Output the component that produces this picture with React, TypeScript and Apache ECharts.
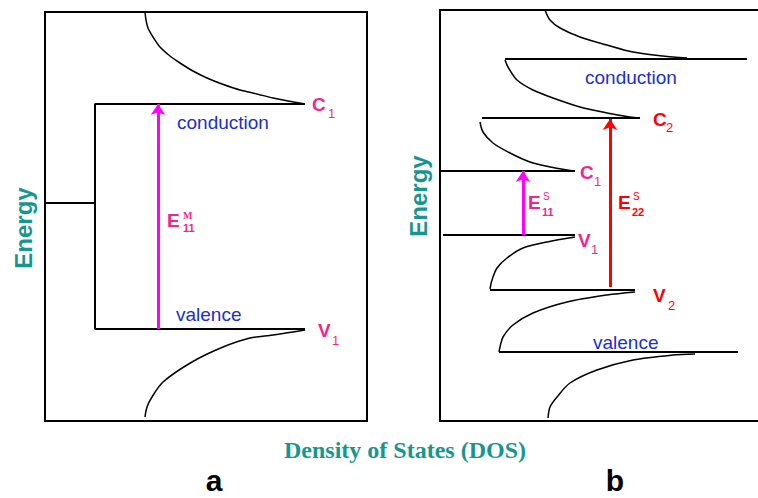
import React, { useEffect, useRef } from "react";
import * as echarts from "echarts";

// Panel a (metallic tube) — [DOS, Energy] pairs, arbitrary units
const aConductionCurve = [[100,409],[101,401],[103,393],[108,384],[115,374],[125,365],[135,358],[148,350],[162,343],[177,337],[195,331],[212,327],[228,323],[243,320],[260,317]];
const aValenceCurve = [[260,91],[228,86],[205,83],[178,74],[147,59],[118,39],[107,24],[102,14],[100,4]];
const aBandEdges = [[260,317],[50,317],[50,92],[260,92]];
const aFermiLevel = [[0,218],[50,218]];
const aTransition = [[113,92],[113,317]];

// Panel b (semiconducting tube)
const bTopCurve = [[105,411],[110,401],[120,393],[140,384],[167,376],[193,369],[223,365],[247,363]];
const bC3Edge = [[65,362],[307,362]];
const bC2Curve = [[65,361],[68,354],[77,341],[93,331],[113,323],[140,314],[167,308],[190,304],[200,303]];
const bC2Edge = [[42,303],[200,303]];
const bC1Curve = [[40,299],[43,289],[53,278],[70,268],[90,259],[110,254],[127,251],[135,250]];
const bC1Edge = [[0,250],[135,250]];
const bV1Edge = [[3,186],[135,186]];
const bV1Curve = [[135,184],[107,179],[83,173],[67,163],[57,153],[52,141],[50,132]];
const bV2Edge = [[50,131],[195,131]];
const bV2Curve = [[195,129],[167,126],[127,119],[93,108],[73,96],[63,84],[60,74],[59,69]];
const bV3Edge = [[59,69],[298,69]];
const bBottomCurve = [[255,67],[233,66],[193,61],[157,51],[130,38],[117,24],[110,14],[108,3]];
const bTransition11 = [[83,186],[83,250]];
const bTransition22 = [[170,134],[170,302]];

const TEAL = "#17968f";
const BLUE = "#1a2fcc";
const PINK = "#f0268e";
const MAGENTA = "#ff00ff";
const RED = "#ff0000";

function curve(data: number[][], idx: number, width = 1.5, smooth: number | boolean = 0.3) {
  return {
    type: "line",
    xAxisIndex: idx,
    yAxisIndex: idx,
    data,
    symbol: "none",
    showSymbol: false,
    smooth,
    silent: true,
    lineStyle: { color: "#000", width },
  };
}

function arrow(coords: number[][], idx: number, color: string) {
  return {
    type: "lines",
    coordinateSystem: "cartesian2d",
    xAxisIndex: idx,
    yAxisIndex: idx,
    symbol: ["none", "arrow"],
    symbolSize: 11,
    silent: true,
    z: 5,
    lineStyle: { color, width: 3, opacity: 1 },
    data: [{ coords }],
  };
}

function txt(text: string, x: number, y: number, size: number, fill: string, weight = "normal", family = "Liberation Sans, Arial, sans-serif", extra: any = {}) {
  return {
    type: "text",
    x,
    y,
    silent: true,
    z: 10,
    ...extra,
    style: {
      text,
      fill,
      fontSize: size,
      fontWeight: weight,
      fontFamily: family,
      align: extra.align || "left",
      verticalAlign: "middle",
    },
  };
}

export default function App() {
  const ref = useRef<HTMLDivElement>(null);
  useEffect(() => {
    if (!ref.current) return;
    const chart = echarts.init(ref.current, undefined, { renderer: "svg" });
    const option: any = {
      animation: false,
      backgroundColor: "#fff",
      grid: [
        { left: 45, top: 12, width: 322, height: 409, show: true, borderColor: "#000", borderWidth: 2, backgroundColor: "transparent" },
        { left: 440, top: 10, width: 318, height: 411, show: false },
      ],
      xAxis: [
        { type: "value", gridIndex: 0, min: 0, max: 322, show: false },
        { type: "value", gridIndex: 1, min: 0, max: 318, show: false },
      ],
      yAxis: [
        { type: "value", gridIndex: 0, min: 0, max: 409, show: false },
        { type: "value", gridIndex: 1, min: 0, max: 411, show: false },
      ],
      series: [
        curve(aConductionCurve, 0),
        curve(aValenceCurve, 0),
        curve(aBandEdges, 0, 2, false),
        curve(aFermiLevel, 0, 2, false),
        arrow(aTransition, 0, MAGENTA),
        curve(bTopCurve, 1),
        curve(bC3Edge, 1, 2, false),
        curve(bC2Curve, 1),
        curve(bC2Edge, 1, 2, false),
        curve(bC1Curve, 1),
        curve(bC1Edge, 1, 2, false),
        curve(bV1Edge, 1, 2, false),
        curve(bV1Curve, 1),
        curve(bV2Edge, 1, 2, false),
        curve(bV2Curve, 1),
        curve(bV3Edge, 1, 2, false),
        curve(bBottomCurve, 1),
        arrow(bTransition11, 1, MAGENTA),
        arrow(bTransition22, 1, RED),
      ],
      graphic: [
        // panel b frame (open on the right, running past the picture edge)
        {
          type: "polyline",
          silent: true,
          z: 1,
          shape: { points: [[770, 10], [440, 10], [440, 421], [770, 421]] },
          style: { stroke: "#000", lineWidth: 2, fill: "none" },
        },
        // axis titles
        txt("Energy", 23, 228, 24, TEAL, "bold", "Liberation Sans, Arial, sans-serif", { rotation: Math.PI / 2, align: "center" }),
        txt("Energy", 418, 196, 24, TEAL, "bold", "Liberation Sans, Arial, sans-serif", { rotation: Math.PI / 2, align: "center" }),
        txt("Density of States (DOS)", 405, 450, 24, TEAL, "bold", "Liberation Serif, Times New Roman, serif", { align: "center" }),
        txt("a", 214, 480, 30, "#000", "bold", "Liberation Sans, Arial, sans-serif", { align: "center" }),
        txt("b", 615, 480, 30, "#000", "bold", "Liberation Sans, Arial, sans-serif", { align: "center" }),
        // panel a labels
        txt("conduction", 177, 122, 19, BLUE),
        txt("valence", 176, 314, 19, BLUE),
        txt("C", 312, 104, 19, PINK, "bold"),
        txt("1", 328, 113, 13, PINK, "normal"),
        txt("V", 318, 330, 19, PINK, "bold"),
        txt("1", 332, 340, 13, PINK, "normal"),
        txt("E", 167, 220, 19, PINK, "bold"),
        txt("M", 183, 215, 10, PINK, "bold", "Liberation Serif, serif"),
        txt("11", 183, 228, 11, PINK, "bold"),
        // panel b labels
        txt("conduction", 585, 77, 19, BLUE),
        txt("valence", 593, 342, 19, BLUE),
        txt("C", 653, 119, 19, RED, "bold"),
        txt("2", 666, 127, 13, RED, "normal"),
        txt("C", 580, 172, 19, PINK, "bold"),
        txt("1", 594, 181, 13, PINK, "normal"),
        txt("V", 578, 240, 19, PINK, "bold"),
        txt("1", 591, 249, 13, PINK, "normal"),
        txt("V", 653, 295, 19, RED, "bold"),
        txt("2", 668, 305, 13, RED, "normal"),
        txt("E", 528, 202, 19, PINK, "bold"),
        txt("S", 543, 196, 10, PINK, "normal"),
        txt("11", 542, 212, 11, PINK, "bold"),
        txt("E", 618, 202, 19, RED, "bold"),
        txt("S", 633, 196, 10, RED, "normal"),
        txt("22", 632, 212, 11, RED, "bold"),
      ],
    };
    chart.setOption(option);
    return () => chart.dispose();
  }, []);
  return (
    <div
      ref={ref}
      style={{ position: "fixed", left: 0, top: 0, width: 758, height: 498, background: "#fff" }}
    />
  );
}
